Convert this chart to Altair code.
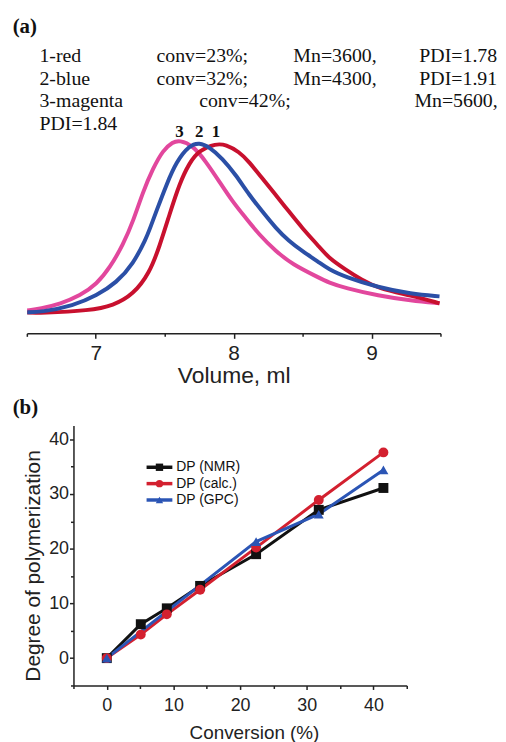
import altair as alt
import pandas as pd

# ---------------- Panel (a): GPC traces (intensity in arbitrary units) ----------------
trace_names = ["1-red", "2-blue", "3-magenta"]
trace_colors = ["#c8102e", "#2b4fa6", "#e2479d"]

vol_red = [6.503, 6.599, 6.959, 7.127, 7.271, 7.391, 7.463, 7.535, 7.607, 7.679, 7.751, 7.872,
           7.944, 8.040, 8.112, 8.207, 8.304, 8.400, 8.496, 8.616, 8.688, 8.808, 8.928, 9.048,
           9.288, 9.493]
int_red = [21, 20.5, 23, 28, 39, 61, 88, 120, 151, 172, 184.7, 191.3,
           190.3, 183, 173, 156.3, 139.7, 123, 106.3, 88, 76.3, 64.7, 54, 45.5,
           38, 30.3]

vol_blue = [6.503, 6.599, 6.839, 7.007, 7.151, 7.271, 7.367, 7.391, 7.439, 7.512, 7.584, 7.679,
            7.751, 7.823, 7.919, 8.016, 8.112, 8.207, 8.304, 8.400, 8.496, 8.616, 8.688, 8.808,
            9.048, 9.288, 9.493]
int_blue = [21.3, 21.3, 28, 38, 51.3, 69.7, 96.3, 105, 123, 149.7, 173, 189.7,
            192.3, 188, 176.3, 159.7, 139.7, 123, 106.3, 93, 83, 72, 64.7, 57,
            46.3, 39.7, 37.3]

vol_mag = [6.503, 6.599, 6.743, 6.887, 7.007, 7.103, 7.199, 7.271, 7.343, 7.415, 7.487, 7.559,
           7.607, 7.703, 7.800, 7.896, 7.991, 8.088, 8.184, 8.304, 8.424, 8.616, 8.688, 8.808,
           9.048, 9.288, 9.493]
int_mag = [23, 25, 29.7, 38, 49.7, 66.3, 89.7, 113, 143, 166.3, 184.7, 193,
           194.7, 189.7, 173, 153, 133, 116.3, 99.7, 83, 69.7, 56.3, 51.3, 45.7,
           38, 33, 30.3]

peak_labels = ["1", "2", "3"]

info_lines = [
    ["1-red", "conv=23%;", "Mn=3600,", "PDI=1.78"],
    ["2-blue", "conv=32%;", "Mn=4300,", "PDI=1.91"],
    ["3-magenta", "conv=42%;", "Mn=5600,"],
    ["PDI=1.84"],
]

# ---------------- Panel (b): degree of polymerization ----------------
series_names = ["DP (NMR)", "DP (calc.)", "DP (GPC)"]
series_colors = ["#111111", "#d3202f", "#2b55b5"]
series_shapes = ["square", "circle", "triangle-up"]

conv_nmr = [0, 5.1, 9.0, 14.0, 22.4, 31.8, 41.5]
dp_nmr = [0, 6.2, 9.1, 13.2, 19.0, 27.1, 31.1]
conv_calc = [0, 5.1, 9.0, 14.0, 22.4, 31.8, 41.5]
dp_calc = [0, 4.3, 8.0, 12.5, 20.2, 28.9, 37.6]
conv_gpc = [0, 22.4, 31.8, 41.5]
dp_gpc = [0, 21.3, 26.3, 34.4]

SANS = "Liberation Sans"
SERIF = "Liberation Serif"
INK = "#222"

# ---------- build panel (a) ----------
vols = [vol_red, vol_blue, vol_mag]
ints = [int_red, int_blue, int_mag]
df_a = pd.concat(
    [pd.DataFrame({"vol": v, "inten": i, "trace": n}) for v, i, n in zip(vols, ints, trace_names)],
    ignore_index=True,
)
peak_vols = [v[i.index(max(i))] for v, i in zip(vols, ints)]
df_peaks = pd.DataFrame({"vol": peak_vols, "label": peak_labels})

# plot origin shared with panel (b); the volume axis starts 47px further left
xa_scale = alt.Scale(domain=[6.5, 9.5], nice=False, zero=False, range=[-47, 370])
ya_scale = alt.Scale(domain=[0, 323], nice=False)
xa_axis = alt.Axis(
    values=[6.5, 7, 7.5, 8, 8.5, 9, 9.5],
    labelExpr="datum.value % 1 === 0 ? format(datum.value, 'd') : ''",
    tickSize={"condition": {"test": "datum.value % 1 === 0", "value": 5}, "value": 3},
    labelFontSize=21, labelPadding=4, titleFontSize=23, titleFontWeight="normal",
    titleBaseline="alphabetic", titleY=50, titleX=161.5,
    labelFont=SANS, titleFont=SANS, domainColor=INK, tickColor=INK,
    domainWidth=1.5, tickWidth=1.5, labelColor=INK, titleColor=INK, grid=False,
)
color_a = alt.Color("trace:N", scale=alt.Scale(domain=trace_names, range=trace_colors), legend=None)

layers_a = []
for name in ["3-magenta", "1-red", "2-blue"]:
    layers_a.append(
        alt.Chart(df_a).transform_filter(alt.datum.trace == name)
        .mark_line(strokeWidth=4, interpolate="basis")
        .encode(
            x=alt.X("vol:Q", scale=xa_scale, axis=xa_axis, title="Volume, ml"),
            y=alt.Y("inten:Q", scale=ya_scale, axis=None),
            color=color_a,
        )
    )

peaks = alt.Chart(df_peaks).mark_text(font=SERIF, fontSize=17, fontWeight="bold",
                                      baseline="alphabetic", align="center", color="#111").encode(
    x=alt.X("vol:Q", scale=xa_scale), y=alt.value(125), text="label:N")
layers_a.append(peaks)

layers_a.append(
    alt.Chart(pd.DataFrame({"t": ["(a)"]})).mark_text(
        font=SERIF, fontSize=21, fontWeight="bold", align="left", baseline="alphabetic", color="#111"
    ).encode(x=alt.value(-61.3), y=alt.value(20), text="t:N")
)

col_x = [[-34.3, 83.7, 221.7, 348.7], [-34.3, 83.7, 221.7, 348.7], [-34.3, 126.7, 343.7], [-34.3]]
row_y = [49.5, 72.2, 94.9, 117.6]
for line, xs, yy in zip(info_lines, col_x, row_y):
    for txt, xx in zip(line, xs):
        layers_a.append(
            alt.Chart(pd.DataFrame({"t": [txt]})).mark_text(
                font=SERIF, fontSize=20, align="left", baseline="alphabetic", color="#111"
            ).encode(x=alt.value(xx), y=alt.value(yy), text="t:N")
        )

panel_a = alt.layer(*layers_a).properties(width=370, height=323)

# ---------- build panel (b) ----------
df_b = pd.concat([
    pd.DataFrame({"conv": conv_nmr, "dp": dp_nmr, "series": series_names[0]}),
    pd.DataFrame({"conv": conv_calc, "dp": dp_calc, "series": series_names[1]}),
    pd.DataFrame({"conv": conv_gpc, "dp": dp_gpc, "series": series_names[2]}),
], ignore_index=True)

color_b = alt.Color("series:N", scale=alt.Scale(domain=series_names, range=series_colors), legend=None)
shape_b = alt.Shape("series:N", scale=alt.Scale(domain=series_names, range=series_shapes), legend=None)

xb = alt.X("conv:Q", scale=alt.Scale(domain=[-5, 45], nice=False, zero=False),
           title="Conversion (%)",
           axis=alt.Axis(values=list(range(-5, 46, 5)),
                         labelExpr="datum.value % 10 === 0 ? format(datum.value, 'd') : ''",
                         tickSize={"condition": {"test": "datum.value % 10 === 0", "value": 4}, "value": 3},
                         labelFontSize=18, labelPadding=7, titleFontSize=19, titleFontWeight="normal",
                         titleBaseline="alphabetic", titleY=53, titleX=182,
                         labelFont=SANS, titleFont=SANS, domainColor=INK, tickColor=INK,
                         domainWidth=1.5, tickWidth=1.5, labelColor=INK, titleColor=INK,
                         grid=False))
yb = alt.Y("dp:Q", scale=alt.Scale(domain=[-5, 42.5], nice=False, zero=False),
           title="Degree of polymerization",
           axis=alt.Axis(values=list(range(-5, 41, 5)),
                         labelExpr="datum.value % 10 === 0 ? format(datum.value, 'd') : ''",
                         tickSize={"condition": {"test": "datum.value % 10 === 0", "value": 4}, "value": 3},
                         labelFontSize=18, labelPadding=1, titleFontSize=21, titleFontWeight="normal",
                         titleX=-30, titleY=141,
                         labelFont=SANS, titleFont=SANS, domainColor=INK, tickColor=INK,
                         domainWidth=1.5, tickWidth=1.5, labelColor=INK, titleColor=INK,
                         grid=False))

lines_b = alt.Chart(df_b).mark_line(strokeWidth=3).encode(x=xb, y=yb, color=color_b, detail="series:N")
points_b = alt.Chart(df_b).mark_point(filled=True, size=100, opacity=1).encode(
    x=xb, y=yb, color=color_b, shape=shape_b)
main_b = alt.layer(lines_b, points_b)

# hand-built legend: one row per series, rows placed by an independent row scale
leg_df = pd.DataFrame({"series": series_names, "row": list(range(len(series_names)))})
leg_y = alt.Y("row:Q", scale=alt.Scale(domain=[0, 2], range=[42, 75], nice=False, zero=False), axis=None)
leg_rule = alt.Chart(leg_df).mark_rule(strokeWidth=3.5).encode(
    x=alt.value(73.7), x2=alt.value(99.7), y=leg_y, color=color_b)
leg_pt = alt.Chart(leg_df).mark_point(filled=True, size=55, opacity=1).encode(
    x=alt.value(86.7), y=leg_y, color=color_b, shape=shape_b)
leg_tx = alt.Chart(leg_df).mark_text(align="left", baseline="middle", fontSize=14, font=SANS,
                                     color="#111").encode(x=alt.value(103.7), y=leg_y, text="series:N")
legend_b = alt.layer(leg_rule, leg_pt, leg_tx)

btext = alt.Chart(pd.DataFrame({"t": ["(b)"]})).mark_text(
    font=SERIF, fontSize=21, fontWeight="bold", align="left", baseline="alphabetic", color="#111"
).encode(x=alt.value(-61.3), y=alt.value(-11.7), text="t:N")

panel_b = alt.layer(main_b, legend_b, btext).resolve_scale(y="independent").properties(width=336, height=262)

chart = alt.vconcat(panel_a, panel_b, spacing=9).resolve_scale(
    color="independent", shape="independent"
).properties(
    padding={"left": 4, "top": 2, "right": 0, "bottom": 0}
).configure_view(stroke=None)

chart.save("out.html", embed_options={"renderer": "svg", "actions": False})
